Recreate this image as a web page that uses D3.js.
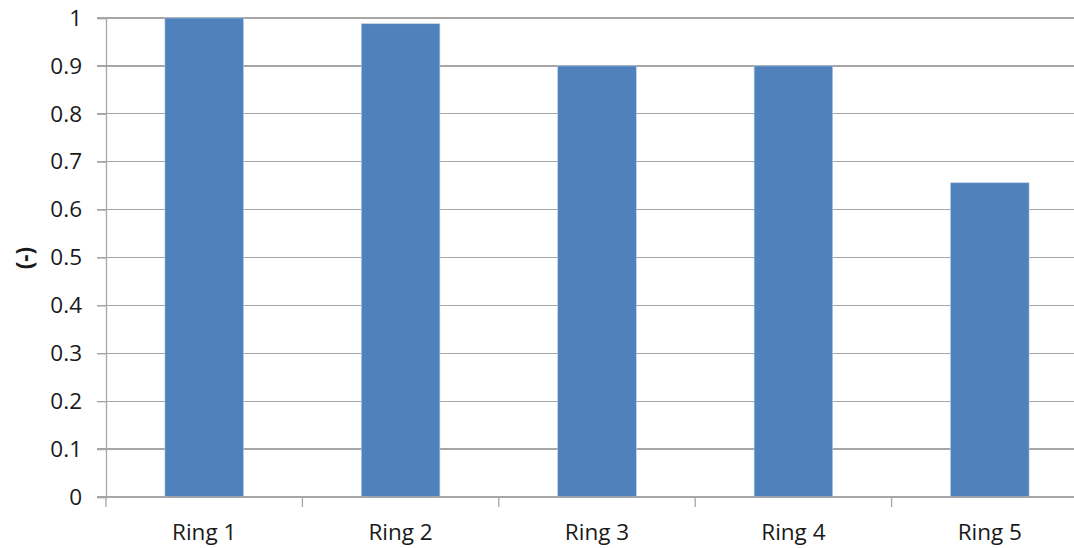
<!DOCTYPE html>
<html><head><meta charset="utf-8">
<script src="https://cdn.jsdelivr.net/npm/d3@7"></script>
<style>body{margin:0;background:#fff}svg{display:block}</style>
</head><body>
<svg id="c" width="1074" height="548"></svg>
<script>
const categories = ["Ring 1","Ring 2","Ring 3","Ring 4","Ring 5"];
const values = [1.0, 0.988, 0.9, 0.9, 0.656];
const yTicks = [0,0.1,0.2,0.3,0.4,0.5,0.6,0.7,0.8,0.9,1];
const yTickLabels = ["0","0.1","0.2","0.3","0.4","0.5","0.6","0.7","0.8","0.9","1"];
const yTitle = "(-)";

(function(){
const svg = d3.select("#c");
const mL = 106, mR = 1088, mT = 18, mB = 497;
const font = "'Open Sans', sans-serif";
const fs = 22.5;
const x = d3.scaleBand().domain(categories).range([mL, mR]).paddingInner(0.6).paddingOuter(0.3);
const y = d3.scaleLinear().domain([0,1]).range([mB, mT]);

// gridlines
svg.append("g").selectAll("line").data(yTicks).join("line")
  .attr("x1", mL-9).attr("x2", mR).attr("y1", d=>y(d)).attr("y2", d=>y(d))
  .attr("stroke", "#a6a6a6").attr("stroke-width", 1.3).attr("shape-rendering","crispEdges");

// bars
svg.append("g").selectAll("rect").data(values).join("rect")
  .attr("x", (d,i)=>x(categories[i])).attr("width", x.bandwidth())
  .attr("y", d=>y(d)).attr("height", d=>y(0)-y(d))
  .attr("fill", "#4f81bd").attr("stroke","#b9cde5").attr("stroke-width",0.6);

// y axis
const yAxis = svg.append("g").attr("transform", `translate(${mL},0)`)
  .call(d3.axisLeft(y).tickValues(yTicks).tickFormat((d,i)=>yTickLabels[i]).tickSize(9).tickPadding(15));
yAxis.select(".domain").attr("stroke","#a6a6a6").attr("stroke-width",1.3);
yAxis.selectAll(".tick line").attr("stroke","#a6a6a6").attr("stroke-width",1.3);
yAxis.selectAll("text").attr("font-family", font).attr("font-size", fs).attr("fill","#1a1a1a");

// x axis
const step = x.step();
const boundaries = d3.range(categories.length+1).map(i=> mL + i*step);
svg.append("g").selectAll("line").data(boundaries).join("line")
  .attr("x1", d=>d).attr("x2", d=>d).attr("y1", mB).attr("y2", mB+10)
  .attr("stroke","#a6a6a6").attr("stroke-width",1.3);
svg.append("line").attr("x1", mL).attr("x2", mR).attr("y1", mB).attr("y2", mB)
  .attr("stroke","#a6a6a6").attr("stroke-width",1.3);
svg.append("g").selectAll("text").data(categories).join("text")
  .attr("x", d=>x(d)+x.bandwidth()/2).attr("y", 540)
  .attr("text-anchor","middle").attr("font-family", font).attr("font-size", fs).attr("fill","#1a1a1a")
  .text(d=>d);

// y title
svg.append("text").attr("transform","translate(33,258) rotate(-90)")
  .attr("text-anchor","middle").attr("font-family", font).attr("font-weight","bold")
  .attr("font-size", fs).attr("fill","#1a1a1a").text(yTitle);
})();
</script>
</body></html>
